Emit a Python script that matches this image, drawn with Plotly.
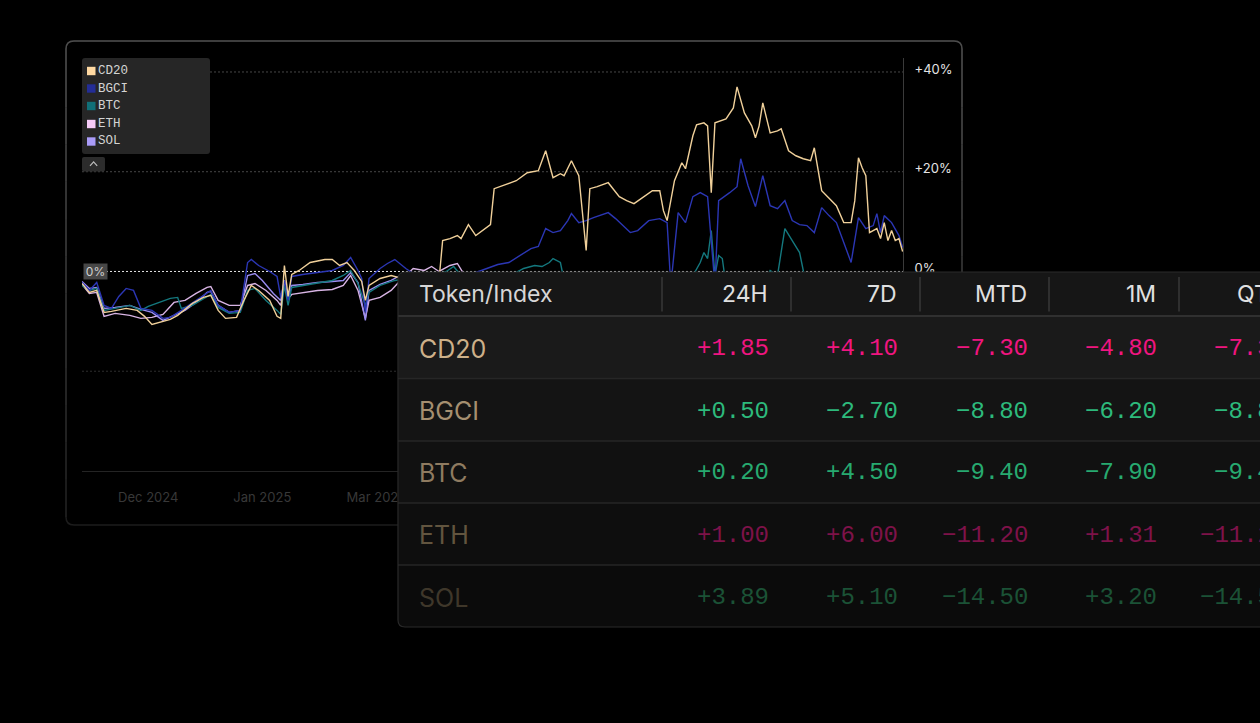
import plotly.graph_objects as go

W, H = 1260, 723

# ---------------- chart data (day index, % return) ----------------
cd20_days = [0,2,4,6,8,12,15,17,19,21,24,26,30,33,35,37,39,42,44,46,48,51,53,54,55,56,57,59,62,66,68,70,72,74,76,77,78,81,84,87,92,97,98,100,102,103,105,107,111,112,115,118,121,124,126,128,130,131,133,135,137,138,140,143,146,148,150,152,155,157,158,159,161,163,164,166,167,169,170,171,172,175,177,178,180,182,183,184,185,187,189,190,192,194,196,198,199,201,203,205,207,209,210,211,212,213,214,216,217,218,219,220,221,222,223]
cd20_vals = [-2.4,-4.2,-3.8,-8.2,-8.0,-7.4,-7.8,-9.0,-10.6,-10.2,-9.6,-8.8,-6.4,-5.2,-4.8,-7.8,-9.4,-9.2,-5.8,-2.8,-3.8,-5.8,-9.0,-9.4,1.2,-5.0,-0.6,0.2,1.8,2.4,2.4,1.2,1.8,0.2,-2.0,-5.8,-2.8,-1.4,-0.8,-1.4,-2.2,-1.8,6.2,6.6,7.2,6.6,9.4,7.2,9.4,16.6,17.4,18.2,19.8,20.2,24.2,18.8,19.6,19.2,22.2,19.2,4.2,16.6,17.0,17.8,15.0,14.2,13.6,14.6,16.2,16.2,12.2,10.2,18.2,21.8,20.6,27.2,29.4,29.8,29.2,15.8,29.8,30.6,32.8,37.0,31.8,29.2,26.8,29.2,33.8,27.8,28.2,28.6,24.2,23.2,22.6,22.2,24.8,16.2,14.8,13.2,9.8,9.8,14.2,22.8,20.8,19.2,7.8,8.6,6.6,9.8,6.2,8.2,6.2,6.6,4.0]

bgci_days = [0,2,4,6,8,10,12,14,16,19,22,24,27,31,35,37,40,43,45,46,48,51,53,54,55,56,57,60,64,68,71,73,75,76,77,78,81,83,85,86,88,90,96,100,104,107,110,113,116,119,122,124,126,128,130,132,133,135,137,139,143,145,147,149,151,154,157,159,160,162,164,166,168,170,172,173,176,178,179,181,183,185,187,189,191,193,195,197,199,201,203,205,207,209,211,213,215,216,217,218,220,222,223]
bgci_vals = [-2.2,-3.8,-2.2,-6.8,-7.4,-5.0,-3.4,-3.8,-7.4,-7.8,-9.4,-9.2,-7.8,-5.8,-3.8,-6.8,-8.2,-7.8,1.8,2.4,1.2,0.0,-1.0,-5.2,-1.8,-5.8,-1.0,-0.6,-0.2,0.2,1.2,2.8,0.2,-1.4,-8.2,-1.4,0.6,1.6,2.4,1.8,0.6,-0.4,-1.8,-1.4,-1.0,-0.2,0.6,1.4,1.8,3.2,4.6,5.0,8.6,7.8,8.2,10.2,11.6,9.8,10.2,10.8,11.8,10.6,9.2,7.8,8.2,10.2,10.6,9.8,-2.8,11.8,9.8,15.0,15.8,15.0,-2.8,14.2,15.8,17.0,22.6,17.2,13.0,19.2,13.2,12.6,14.2,10.2,9.4,9.2,7.8,12.8,11.2,9.8,5.8,1.8,10.8,8.6,9.2,11.6,7.8,11.2,9.8,7.2,4.8]

btc_days = [0,2,4,6,9,13,16,18,21,24,26,27,30,33,35,37,40,43,45,47,50,53,54,55,56,57,60,64,68,71,73,75,77,78,81,85,88,92,96,99,101,103,108,112,117,120,123,125,127,128,130,131,135,140,145,150,155,160,165,168,169,170,171,172,173,174,175,180,185,187,189,190,191,193,195,196,197,200,205,210,215,220,223]
btc_vals = [-2.8,-3.8,-3.4,-7.8,-7.4,-6.8,-7.8,-7.0,-6.2,-5.4,-5.2,-7.4,-6.8,-5.4,-4.6,-7.2,-8.4,-8.2,-3.8,-3.4,-5.8,-7.8,-8.6,-2.8,-6.8,-3.2,-2.8,-2.2,-1.8,-0.8,0.2,-2.4,-6.8,-4.2,-2.8,-1.8,-1.4,-1.0,-0.8,0.0,1.0,-0.8,-1.0,-0.2,-0.6,0.6,1.2,1.0,1.8,2.6,1.8,-1.8,-2.8,-3.8,-4.8,-4.2,-3.8,-3.4,-2.2,1.8,3.8,2.6,8.2,-0.8,3.2,2.6,-2.8,-3.8,-2.8,0.2,-0.8,4.2,8.6,6.2,3.8,0.2,-3.8,-4.8,-5.8,-4.8,-5.8,-5.4,-5.8]

eth_days = [0,2,4,6,9,13,16,19,22,25,28,31,34,35,37,40,43,45,47,50,53,54,55,56,57,60,64,68,71,73,75,77,78,81,84,86,88,90,93,95,97,100,102,104,110,120,130,140,150,160,170,180,190,200,210,223]
eth_vals = [-2.6,-4.4,-4.2,-9.0,-8.4,-8.8,-9.4,-9.2,-8.6,-6.2,-5.8,-4.4,-3.2,-3.0,-5.8,-6.8,-6.8,-2.8,-2.4,-3.8,-5.8,-6.8,-2.8,-5.4,-4.6,-4.2,-3.8,-3.6,-2.8,-0.8,-3.8,-9.4,-5.8,-5.2,-3.8,-2.2,-0.8,0.6,0.2,1.0,0.0,1.2,1.6,-0.8,-2.8,-3.8,-4.8,-5.8,-5.0,-6.2,-3.8,-4.8,-4.2,-5.8,-6.8,-6.2]

sol_days = [0,2,4,6,9,13,16,19,22,25,28,31,34,35,37,40,43,45,47,49,52,54,55,56,57,60,64,68,71,73,75,77,78,81,84,86,90,100,110,120,130,140,150,160,170,180,190,200,210,223]
sol_vals = [-2.0,-3.4,-3.2,-7.4,-7.2,-6.8,-7.6,-8.2,-9.8,-8.8,-7.8,-6.2,-4.2,-4.0,-6.8,-8.2,-7.8,-0.8,-0.4,-1.8,-4.4,-5.8,-1.8,-5.4,-2.8,-2.6,-2.2,-2.0,-1.8,-0.2,-2.2,-9.8,-3.8,-2.6,-1.8,-1.0,-1.8,-2.8,-3.6,-4.6,-5.2,-6.4,-5.6,-6.8,-4.4,-5.2,-4.8,-6.2,-7.2,-6.8]

series_names = ["CD20", "BGCI", "BTC", "ETH", "SOL"]
line_colors = ["#f0d09a", "#2b36b4", "#14787e", "#d8b4e4", "#9a8cf0"]
legend_colors = ["#ffd9a2", "#232d96", "#106f78", "#f6cbf8", "#a99bf8"]

x_tick_days = [18, 49, 80]
x_tick_text = ["Dec 2024", "Jan 2025", "Mar 2025"]
y_tick_vals = [-40, -20, 0, 20, 40]
y_tick_text = ["-40%", "-20%", "0%", "+20%", "+40%"]
grid_levels = [40, 20, -20]

# ---------------- table data ----------------
table_tokens = ["CD20", "BGCI", "BTC", "ETH", "SOL"]
table_periods = ["24H", "7D", "MTD", "1M", "QTD"]
cd20_returns = [1.85, 4.10, -7.30, -4.80, -7.30]
bgci_returns = [0.50, -2.70, -8.80, -6.20, -8.80]
btc_returns = [0.20, 4.50, -9.40, -7.90, -9.40]
eth_returns = [1.00, 6.00, -11.20, 1.31, -11.20]
sol_returns = [3.89, 5.10, -14.50, 3.20, -14.50]
table_returns = [cd20_returns, bgci_returns, btc_returns, eth_returns, sol_returns]
row_name_colors = ["#cdb089", "#a58f70", "#8f7b60", "#62553f", "#3f372a"]
row_value_colors = ["#f01580", "#2dba7c", "#27aa70", "#7e1249", "#1b5236"]
row_bg_colors = ["#1a1a1a", "#141414", "#111111", "#0e0e0e", "#0b0b0b"]

# ---------------- helpers (pixel -> paper) ----------------
def fx(x):
    return x / W

def fy(y):
    return 1 - y / H

def P(x, y):
    return f"{x / W:.5f},{1 - y / H:.5f}"

def rrect(x0, y0, x1, y1, r):
    return (f"M{P(x0 + r, y0)} L{P(x1 - r, y0)} Q{P(x1, y0)} {P(x1, y0 + r)} "
            f"L{P(x1, y1 - r)} Q{P(x1, y1)} {P(x1 - r, y1)} L{P(x0 + r, y1)} "
            f"Q{P(x0, y1)} {P(x0, y1 - r)} L{P(x0, y0 + r)} Q{P(x0, y0)} {P(x0 + r, y0)} Z")

def mix(c1, c2, t):
    a = [int(c1[i:i + 2], 16) for i in (1, 3, 5)]
    b = [int(c2[i:i + 2], 16) for i in (1, 3, 5)]
    return "#" + "".join(f"{round(a[k] + (b[k] - a[k]) * t):02x}" for k in range(3))

fig = go.Figure()

series = [(cd20_days, cd20_vals), (bgci_days, bgci_vals), (btc_days, btc_vals),
          (eth_days, eth_vals), (sol_days, sol_vals)]
draw_order = [3, 4, 2, 1, 0]
for i in draw_order:
    d, v = series[i]
    fig.add_trace(go.Scatter(x=d, y=v, mode="lines", name=series_names[i],
                             line=dict(color=line_colors[i], width=1.4),
                             hoverinfo="skip", showlegend=False))

shapes = []
PX0, PX1 = 82, 903

# panel frame (fading border)
shapes.append(dict(type="path", xref="paper", yref="paper", layer="below",
                   path=rrect(66, 41, 962, 525, 8), fillcolor="#000000",
                   line=dict(color="#1c1c1c", width=1.5)))
shapes.append(dict(type="path", xref="paper", yref="paper", layer="below",
                   path=f"M{P(66, 70)} L{P(66, 49)} Q{P(66, 41)} {P(74, 41)} L{P(954, 41)} Q{P(962, 41)} {P(962, 49)} L{P(962, 70)}",
                   line=dict(color="#4c4c4c", width=1.5)))
nseg = 12
for k in range(nseg):
    ya = 70 + (517 - 70) * k / nseg
    yb = 70 + (517 - 70) * (k + 1) / nseg
    col = mix("#4c4c4c", "#1c1c1c", (k + 0.5) / nseg)
    for xe in (66, 962):
        shapes.append(dict(type="line", xref="paper", yref="paper", layer="below",
                           x0=fx(xe), x1=fx(xe), y0=fy(ya), y1=fy(yb),
                           line=dict(color=col, width=1.5)))

# grid lines
for g in grid_levels:
    shapes.append(dict(type="line", xref="paper", yref="y", layer="below",
                       x0=fx(PX0), x1=fx(PX1), y0=g, y1=g,
                       line=dict(color="#474747" if g > 0 else "#2e2e2e", width=1, dash="2px,2px")))
shapes.append(dict(type="line", xref="paper", yref="y", layer="below",
                   x0=fx(106), x1=fx(PX1), y0=0, y1=0,
                   line=dict(color="#e2e2e2", width=1, dash="2px,2px")))

# legend box + chevron button
shapes.append(dict(type="path", xref="paper", yref="paper", layer="above",
                   path=rrect(82, 58, 210, 154, 3), fillcolor="#262626", line=dict(width=0)))
leg_rows = [71, 88.5, 106, 124, 141.5]
for i, yc in enumerate(leg_rows):
    shapes.append(dict(type="rect", xref="paper", yref="paper", layer="above",
                       x0=fx(87), x1=fx(95.5), y0=fy(yc - 4.2), y1=fy(yc + 4.2),
                       fillcolor=legend_colors[i], line=dict(width=0)))
shapes.append(dict(type="path", xref="paper", yref="paper", layer="above",
                   path=rrect(82, 157, 105, 171.5, 2), fillcolor="#2c2c2c", line=dict(width=0)))
shapes.append(dict(type="path", xref="paper", yref="paper", layer="above",
                   path=f"M{P(90, 165.8)} L{P(93.6, 161.8)} L{P(97.2, 165.8)}",
                   line=dict(color="#bdbdbd", width=1.2)))

# table
TX0, TX1 = 398, 1300
TY0, TY1 = 272, 627
row_edges = [316, 378.5, 441, 503, 565, 627]
shapes.append(dict(type="path", xref="paper", yref="paper", layer="above",
                   path=rrect(TX0, TY0, TX1, TY1, 7), fillcolor=row_bg_colors[-1], line=dict(width=0)))
shapes.append(dict(type="path", xref="paper", yref="paper", layer="above",
                   path=rrect(TX0, TY0, TX1, 330, 7), fillcolor="#161616", line=dict(width=0)))
for r in range(4):
    shapes.append(dict(type="rect", xref="paper", yref="paper", layer="above",
                       x0=fx(TX0 + 0.5), x1=fx(TX1), y0=fy(row_edges[r]), y1=fy(row_edges[r + 1]),
                       fillcolor=row_bg_colors[r], line=dict(width=0)))
for r, ye in enumerate(row_edges[:-1]):
    shapes.append(dict(type="line", xref="paper", yref="paper", layer="above",
                       x0=fx(TX0), x1=fx(TX1), y0=fy(ye), y1=fy(ye),
                       line=dict(color="#303030" if r == 0 else "#262626", width=2 if r == 0 else 1.5)))
for xd in [662, 791, 920, 1049, 1179]:
    shapes.append(dict(type="line", xref="paper", yref="paper", layer="above",
                       x0=fx(xd), x1=fx(xd), y0=fy(277), y1=fy(311.5),
                       line=dict(color="#2f2f2f", width=2)))
shapes.append(dict(type="path", xref="paper", yref="paper", layer="above",
                   path=rrect(TX0, TY0, TX1, TY1, 7), fillcolor="rgba(0,0,0,0)",
                   line=dict(color="#2a2a2a", width=1.2)))

annotations = []
# legend labels
for i, yc in enumerate(leg_rows):
    annotations.append(dict(xref="paper", yref="paper", x=fx(96), y=fy(yc), text=series_names[i],
                            showarrow=False, xanchor="left", yanchor="middle",
                            font=dict(family="Liberation Mono", size=12.5, color="#d4d4d4")))
# 0% badge
annotations.append(dict(xref="paper", yref="y", x=fx(82.5), y=0, text="0%", showarrow=False,
                        xanchor="left", yanchor="middle", bgcolor="#474747", width=23, height=15,
                        borderpad=0, font=dict(family="Inter", size=12, color="#cfcfcf")))

# table text
col_right = [771, 900, 1030, 1159, 1288]
HEAD_Y = 294
row_centers = [348.5, 411, 472.5, 535, 597.5]
annotations.append(dict(xref="paper", yref="paper", x=fx(417), y=fy(HEAD_Y), text="Token/Index",
                        showarrow=False, xanchor="left", yanchor="middle",
                        font=dict(family="Inter", size=23, color="#d6d6d6")))
for j, p in enumerate(table_periods):
    annotations.append(dict(xref="paper", yref="paper", x=fx(col_right[j] - 1), y=fy(HEAD_Y), text=p,
                            showarrow=False, xanchor="right", yanchor="middle",
                            font=dict(family="Inter", size=23, color="#e0e0e0")))
for r, tok in enumerate(table_tokens):
    annotations.append(dict(xref="paper", yref="paper", x=fx(417), y=fy(row_centers[r]), text=tok,
                            showarrow=False, xanchor="left", yanchor="middle",
                            font=dict(family="Inter", size=25, color=row_name_colors[r])))
    for j, val in enumerate(table_returns[r]):
        txt = f"{val:+.2f}".replace("-", "\u2212")
        annotations.append(dict(xref="paper", yref="paper", x=fx(col_right[j]), y=fy(row_centers[r]),
                                text=txt, showarrow=False, xanchor="right", yanchor="middle",
                                font=dict(family="Liberation Mono", size=24, color=row_value_colors[r])))

fig.update_layout(
    width=W, height=H, autosize=False,
    margin=dict(l=0, r=0, t=0, b=0, pad=0),
    paper_bgcolor="#000000", plot_bgcolor="rgba(0,0,0,0)",
    template="none", showlegend=False,
    shapes=shapes, annotations=annotations,
    xaxis=dict(domain=[fx(PX0), fx(PX1)], range=[0, 223.1], showgrid=False, zeroline=False,
               showline=True, linecolor="#242424", linewidth=1, ticks="",
               tickmode="array", tickvals=x_tick_days, ticktext=x_tick_text,
               ticklabelstandoff=14, automargin=False,
               tickfont=dict(family="Inter", size=13, color="#383838")),
    yaxis=dict(domain=[1 - 471 / H, 1 - 58 / H], range=[-40, 42.8], side="right",
               showgrid=False, zeroline=False, showline=True, linecolor="#3a3a3a", linewidth=1,
               ticks="", tickmode="array", tickvals=y_tick_vals, ticktext=y_tick_text,
               ticklabelstandoff=8, ticklabelshift=-3, automargin=False,
               tickfont=dict(family="Inter", size=13, color="#e4e4e4")),
)

fig.write_html("out.html", config={"displayModeBar": False})
